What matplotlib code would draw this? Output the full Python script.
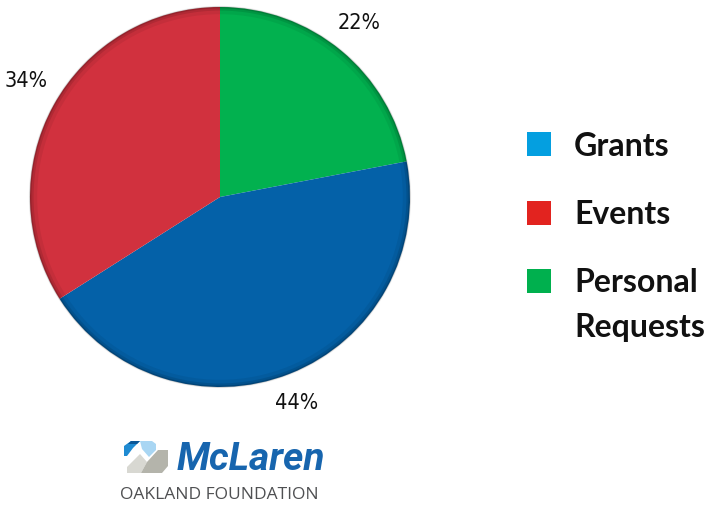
import numpy as np
from matplotlib import pyplot as plt
from matplotlib.patches import Polygon, Circle, Rectangle

# data
labels = ["Grants", "Events", "Personal\nRequests"]
shares = [44, 34, 22]
pie_colors = ["#0461a8", "#d1313e", "#02b14f"]
legend_colors = ["#049fe0", "#e2231f", "#00b04e"]
pct_text = ["44%", "34%", "22%"]

H = 508
fig = plt.figure(figsize=(7.08, 5.08), dpi=100)
ax = fig.add_axes([0, 0, 1, 1])

# pie drawn clockwise from top: Personal, Grants, Events
order = [2, 0, 1]
cx, cy, r = 220, H - 197, 190
wedges, _ = ax.pie([shares[i] for i in order], colors=[pie_colors[i] for i in order],
                   startangle=90, counterclock=False, center=(cx, cy), radius=r,
                   wedgeprops=dict(linewidth=0))
# soft darker rim
for lw, a in [(6, 0.06), (3, 0.10), (1.2, 0.15)]:
    ax.add_patch(Circle((cx, cy), r - lw / 2, fill=False, edgecolor="black",
                        linewidth=lw, alpha=a))

# percentage labels
pct_pos = {0: (297, 403), 1: (26, 81), 2: (359, 23)}
for i, t in enumerate(pct_text):
    x, y = pct_pos[i]
    ax.text(x, H - y, t, ha="center", va="center", fontsize=15.5,
            family="DejaVu Sans", fontstretch="condensed", color="#111111")

# legend
leg_y = [144, 213, 281]
for i, lab in enumerate(labels):
    ax.add_patch(Rectangle((527, H - leg_y[i] - 12), 24, 24, color=legend_colors[i], lw=0))
    ax.text(574, H - leg_y[i] - 2, lab.split("\n")[0], ha="left", va="center",
            fontsize=23, family="Lato", fontweight="bold", color="#111111")
    if "\n" in lab:
        ax.text(574, H - leg_y[i] - 46, lab.split("\n")[1], ha="left", va="center",
                fontsize=23, family="Lato", fontweight="bold", color="#111111")

# logo mark
icon = [
    ([(124, 456), (124, 446), (131, 441), (140, 441), (133, 448), (127, 456)], "#1f8bd2"),
    ([(131, 441), (140, 441), (137, 444), (128, 444)], "#0b5797"),
    ([(140, 441), (152, 441), (156, 444), (156, 450), (149, 457), (142, 449)], "#a9d6f3"),
    ([(127, 473), (127, 467), (140, 454), (147, 462), (141, 473)], "#d8d8d2"),
    ([(147, 462), (158, 450), (168, 450), (168, 466), (162, 473), (141, 473)], "#b4b4ab"),
]
for pts, c in icon:
    ax.add_patch(Polygon([(x, H - y) for x, y in pts], closed=True, color=c, lw=0))
ax.text(177, H - 459, "McLaren", ha="left", va="center", fontsize=28,
        family="Roboto", fontweight="bold", style="italic", color="#1765ae")
ax.text(219, H - 495, "OAKLAND FOUNDATION", ha="center", va="center", fontsize=12.5,
        family="Open Sans", color="#4f5052")

ax.set_xlim(0, 708)
ax.set_ylim(0, H)
ax.set_aspect("equal")
ax.axis("off")
plt.savefig("out.png", dpi=100)
